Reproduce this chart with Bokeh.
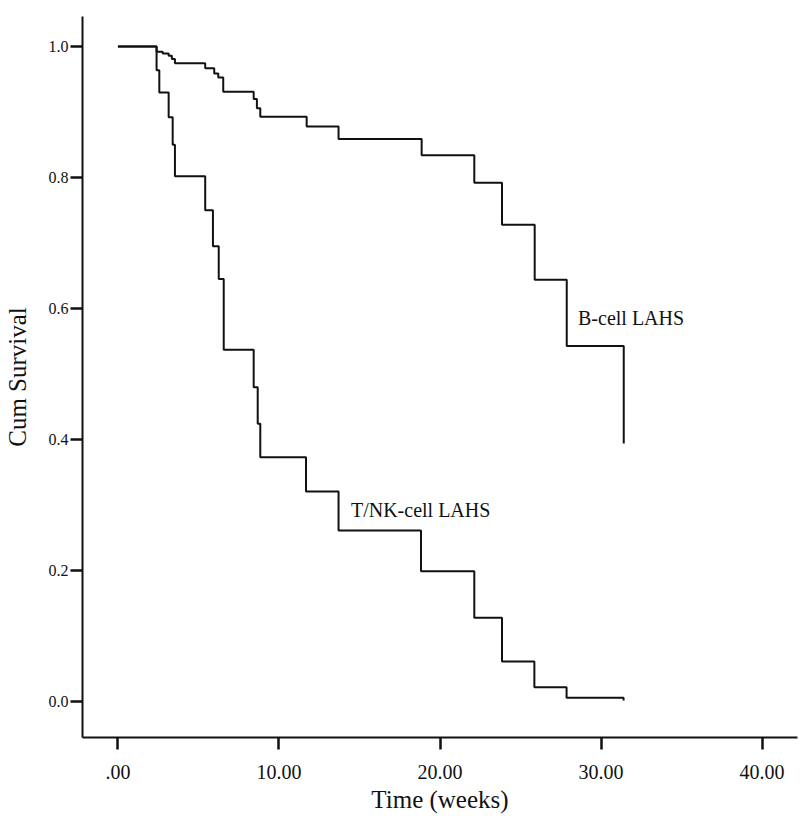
from bokeh.plotting import figure
from bokeh.models import FixedTicker, Range1d
from bokeh.core.properties import value
from bokeh.embed import file_html
from bokeh.resources import INLINE

# ---- data ----
b_time = [0, 2.4, 2.78, 3.15, 3.35, 3.54, 5.42, 5.98, 6.23, 6.54, 8.43, 8.63, 8.84,
          11.72, 13.7, 18.86, 22.13, 23.85, 25.88, 27.87, 31.41]
b_surv = [1.0, 0.992, 0.9895, 0.986, 0.981, 0.9745, 0.967, 0.959, 0.953, 0.931, 0.920,
          0.906, 0.893, 0.878, 0.859, 0.834, 0.792, 0.728, 0.644, 0.543, 0.394]

t_time = [0, 2.4, 2.57, 3.15, 3.4, 3.54, 5.42, 5.9, 6.26, 6.57, 8.43, 8.68, 8.84,
          11.68, 13.7, 18.82, 22.13, 23.85, 25.86, 27.86, 31.4]
t_surv = [1.0, 0.964, 0.930, 0.892, 0.850, 0.802, 0.750, 0.695, 0.645, 0.537, 0.480,
          0.424, 0.373, 0.3206, 0.261, 0.199, 0.128, 0.061, 0.0218, 0.0056, 0.0015]

x_ticks = [0, 10, 20, 30, 40]
x_tick_labels = [".00", "10.00", "20.00", "30.00", "40.00"]
y_ticks = [0.0, 0.2, 0.4, 0.6, 0.8, 1.0]
y_tick_labels = ["0.0", "0.2", "0.4", "0.6", "0.8", "1.0"]

group_names = ["B-cell LAHS", "T/NK-cell LAHS"]
label_x = [28.57, 14.47]
label_y = [0.585, 0.292]

FONT = "Liberation Serif"
INK = "#111111"

p = figure(width=800, height=822, output_backend="svg", toolbar_location=None,
           x_range=Range1d(-2.2, 42.2), y_range=Range1d(-0.055, 1.046),
           min_border_left=82, min_border_right=3, min_border_top=16, min_border_bottom=85)
p.outline_line_color = None
p.xgrid.visible = False
p.ygrid.visible = False
p.background_fill_color = "white"
p.border_fill_color = "white"

p.step(b_time, b_surv, mode="after", line_color=INK, line_width=2)
p.step(t_time, t_surv, mode="after", line_color=INK, line_width=2)

p.text(x=label_x, y=label_y, text=group_names, text_font=value(FONT),
       text_font_size="20px", text_color=INK, text_align="left", text_baseline="middle")

# axes
p.xaxis.ticker = FixedTicker(ticks=x_ticks)
p.xaxis.major_label_overrides = {t: l for t, l in zip(x_ticks, x_tick_labels)}
p.yaxis.ticker = FixedTicker(ticks=y_ticks)
p.yaxis.major_label_overrides = {t: l for t, l in zip(y_ticks, y_tick_labels)}

for ax in (p.xaxis, p.yaxis):
    ax.axis_line_color = INK
    ax.axis_line_width = 2
    ax.major_tick_line_color = INK
    ax.major_tick_line_width = 2.5
    ax.major_tick_out = 12
    ax.major_tick_in = 0
    ax.minor_tick_line_color = None
    ax.major_label_text_font = FONT
    ax.major_label_text_color = INK
    ax.axis_label_text_font = FONT
    ax.axis_label_text_font_style = "normal"
    ax.axis_label_text_color = INK
    ax.axis_label_text_font_size = "25px"

p.xaxis.axis_label = "Time (weeks)"
p.xaxis.major_label_text_font_size = "20px"
p.xaxis.major_label_standoff = 15
p.xaxis.axis_label_standoff = 4

p.yaxis.axis_label = "Cum Survival"
p.yaxis.major_label_text_font_size = "16px"
p.yaxis.major_label_standoff = 2
p.yaxis.axis_label_standoff = 15

open("out.html", "w").write(file_html(p, INLINE))
